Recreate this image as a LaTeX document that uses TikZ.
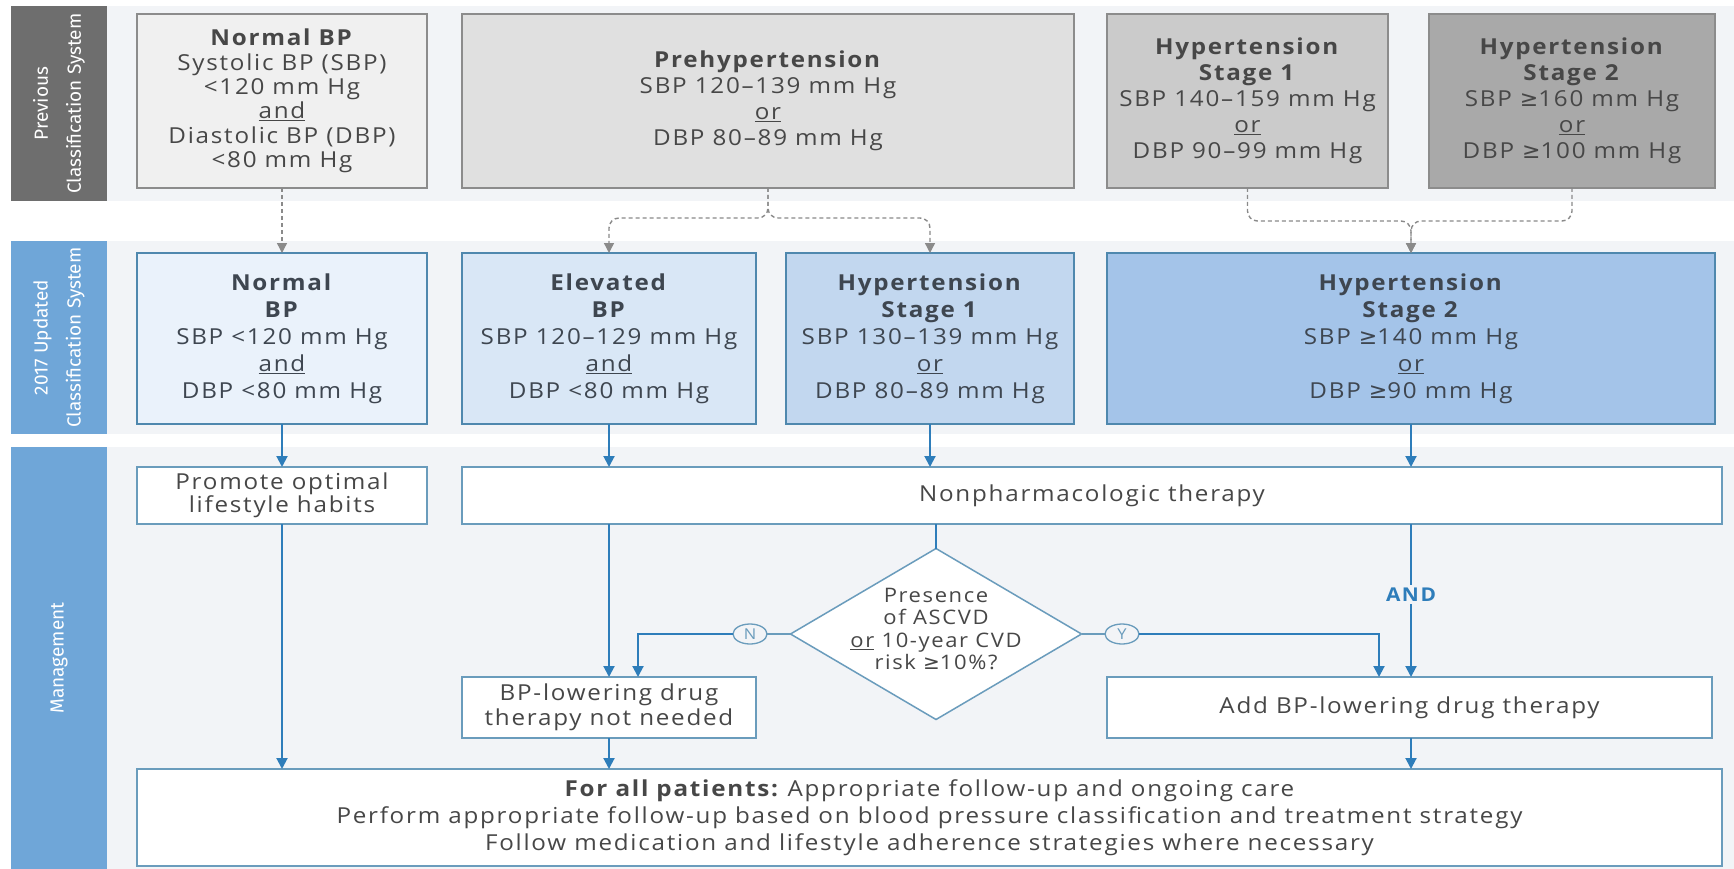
\documentclass[tikz,border=0pt]{standalone}
\usepackage{fontspec}
\setmainfont{Open Sans}[LetterSpace=8,FakeStretch=1.1]
\newfontfamily\condf{Fira Sans}
\newfontfamily\symf{DejaVu Sans}
\newcommand{\gesign}{{\symf ≥}}
\usetikzlibrary{arrows.meta,shapes.geometric,calc}
\definecolor{bandbg}{HTML}{F2F4F7}
\definecolor{prevbar}{HTML}{6E6E6E}
\definecolor{newbar}{HTML}{6FA6D8}
\definecolor{txt}{HTML}{474747}
\definecolor{ntxt}{HTML}{3E4650}
\definecolor{pbord}{HTML}{8C8C8C}
\definecolor{pa}{HTML}{F0F0F0}
\definecolor{pb}{HTML}{E0E0E0}
\definecolor{pc}{HTML}{CBCBCB}
\definecolor{pd}{HTML}{A9A9A9}
\definecolor{nbord}{HTML}{4F88AE}
\definecolor{na}{HTML}{EAF2FB}
\definecolor{nb}{HTML}{D9E7F6}
\definecolor{nc}{HTML}{C2D7EF}
\definecolor{nd}{HTML}{A4C4E9}
\definecolor{mbord}{HTML}{6A9CBC}
\definecolor{arr}{HTML}{2E7DBA}
\definecolor{dasharr}{HTML}{8A8A8A}
\begin{document}
\begin{tikzpicture}[x=1pt,y=-1pt,
  every node/.style={inner sep=0pt, outer sep=0pt},
  band/.style={fill=bandbg, draw=none, anchor=north west},
  sidebar/.style={rotate=90, text=white, align=center, minimum height=96,
    font=\condf\fontsize{19}{33}\selectfont},
  box/.style={draw, line width=1.5pt, align=center},
  pbox/.style={box, draw=pbord, text=txt, minimum height=174, font=\fontsize{22}{26}\selectfont},
  nbox/.style={box, draw=nbord, text=ntxt, minimum height=171, font=\fontsize{22}{27}\selectfont},
  mbox/.style={box, draw=mbord, fill=white, text=txt, font=\fontsize{22}{21.5}\selectfont},
  barrow/.style={draw=arr, line width=2pt, -{Triangle[width=11pt,length=11pt]}},
  bline/.style={draw=arr, line width=2pt},
  dasharrow/.style={draw=dasharr, line width=1.4pt, dash pattern=on 4pt off 3pt,
    -{Triangle[width=10pt,length=10pt]}},
  yn/.style={ellipse, draw=mbord, line width=1.3pt, fill=bandbg, text=mbord,
    font=\fontsize{15}{15}\selectfont, minimum width=34, minimum height=20}
]
\useasboundingbox[fill=white] (0,0) rectangle (1734,869);

% bands
\node[band, minimum width=1627, minimum height=195] (band1) at (107,6) {};
\node[band, minimum width=1627, minimum height=193] (band2) at (107,241) {};
\node[band, minimum width=1627, minimum height=422] (band3) at (107,447) {};

% side bars
\node[sidebar, fill=prevbar, minimum width=195] (bar1) at (59,103.5) {Previous\\Classification System};
\node[sidebar, fill=newbar, minimum width=193] (bar2) at (59,337.5) {2017 Updated\\Classification System};
\node[sidebar, fill=newbar, minimum width=422] (bar3) at (59,658) {Management};

% previous classification
\node[pbox, fill=pa, minimum width=290, font=\fontsize{22}{24.3}\selectfont] (pn) at (282,101)
  {\textbf{Normal BP}\\Systolic BP (SBP)\\<120 mm Hg\\\underline{and}\\Diastolic BP (DBP)\\<80 mm Hg};
\node[pbox, fill=pb, minimum width=612] (pp) at (768,101)
  {\textbf{Prehypertension}\\SBP 120–139 mm Hg\\\underline{or}\\DBP 80–89 mm Hg};
\node[pbox, fill=pc, minimum width=281] (p1) at (1247.5,101)
  {\textbf{Hypertension}\\\textbf{Stage 1}\\SBP 140–159 mm Hg\\\underline{or}\\DBP 90–99 mm Hg};
\node[pbox, fill=pd, text=black!72, minimum width=286] (p2) at (1572,101)
  {\textbf{Hypertension}\\\textbf{Stage 2}\\SBP \gesign160 mm Hg\\\underline{or}\\DBP \gesign100 mm Hg};

% 2017 classification
\node[nbox, fill=na, minimum width=290] (nn) at (282,338.5)
  {\textbf{Normal}\\\textbf{BP}\\SBP <120 mm Hg\\\underline{and}\\DBP <80 mm Hg};
\node[nbox, fill=nb, minimum width=294] (ne) at (609,338.5)
  {\textbf{Elevated}\\\textbf{BP}\\SBP 120–129 mm Hg\\\underline{and}\\DBP <80 mm Hg};
\node[nbox, fill=nc, minimum width=288] (n1) at (930,338.5)
  {\textbf{Hypertension}\\\textbf{Stage 1}\\SBP 130–139 mm Hg\\\underline{or}\\DBP 80–89 mm Hg};
\node[nbox, fill=nd, minimum width=608] (n2) at (1411,338.5)
  {\textbf{Hypertension}\\\textbf{Stage 2}\\SBP \gesign140 mm Hg\\\underline{or}\\DBP \gesign90 mm Hg};

% management
\node[mbox, minimum width=290, minimum height=57] (promote) at (282,495.5)
  {Promote optimal\\lifestyle habits};
\node[mbox, minimum width=1260, minimum height=57] (nonpharm) at (1092,495.5)
  {Nonpharmacologic therapy};
\node[diamond, draw=mbord, line width=1.5pt, fill=white, minimum width=291, minimum height=171] (dia) at (936,634) {};
\node[text=txt, align=center, font=\fontsize{20}{22.5}\selectfont] (diatext) at (936,629)
  {Presence\\of ASCVD\\\underline{or} 10-year CVD\\risk \gesign10\%?};
\node[mbox, minimum width=294, minimum height=61, font=\fontsize{22}{25}\selectfont] (notneeded) at (609,707.5)
  {BP-lowering drug\\therapy not needed};
\node[mbox, minimum width=605, minimum height=61] (addbp) at (1409.5,707.5)
  {Add BP-lowering drug therapy};
\node[mbox, minimum width=1585, minimum height=97, font=\fontsize{22}{27}\selectfont] (final) at (929.5,817.5)
  {\textbf{For all patients:}\hspace{-3pt} Appropriate follow-up and ongoing care\\
   Perform appropriate follow-up based on blood pressure classification and treatment strategy\\
   Follow medication and lifestyle adherence strategies where necessary};

\node[yn] (ncirc) at (750,634) {N};
\node[yn] (ycirc) at (1122,634) {Y};

% dashed mapping arrows
\coordinate (pj) at (768,218);
\coordinate (hj) at (1411,221);
\draw[dasharrow] (pn.south) -- (nn.north);
\draw[dasharrow, rounded corners=10pt] (pp.south) -- (pj) -| (ne.north);
\draw[dasharrow, rounded corners=10pt] (pp.south) -- (pj) -| (n1.north);
\draw[dasharrow, rounded corners=10pt] (p1.south) |- (hj) -- (n2.north);
\draw[dasharrow, rounded corners=10pt] (p2.south) |- (hj) -- (n2.north);

% blue arrows
\draw[barrow] (nn.south) -- (promote.north);
\draw[barrow] (ne.south) -- (ne.south |- nonpharm.north);
\draw[barrow] (n1.south) -- (n1.south |- nonpharm.north);
\draw[barrow] (n2.south) -- (n2.south |- nonpharm.north);
\draw[barrow] (promote.south) -- (promote.south |- final.north);
\draw[barrow] (notneeded.north |- nonpharm.south) -- (notneeded.north);
\draw[bline] (dia.north |- nonpharm.south) -- (dia.north);
\draw[bline, line width=1.4pt, draw=mbord] (dia.west) -- (ncirc.east);
\draw[bline, line width=1.4pt, draw=mbord] (dia.east) -- (ycirc.west);
\draw[barrow] (ncirc.west) -| ([xshift=29pt]notneeded.north);
\draw[barrow] (ycirc.east) -| ([xshift=-30.5pt]addbp.north);
\draw[barrow] (n2.south |- nonpharm.south) -- (n2.south |- addbp.north)
  node[pos=0.46, fill=bandbg, text=arr, inner sep=3pt, font=\bfseries\fontsize{19}{19}\selectfont] (andlbl) {AND};
\draw[barrow] (notneeded.south) -- (notneeded.south |- final.north);
\draw[barrow] (n2.south |- addbp.south) -- (n2.south |- final.north);
\end{tikzpicture}
\end{document}
